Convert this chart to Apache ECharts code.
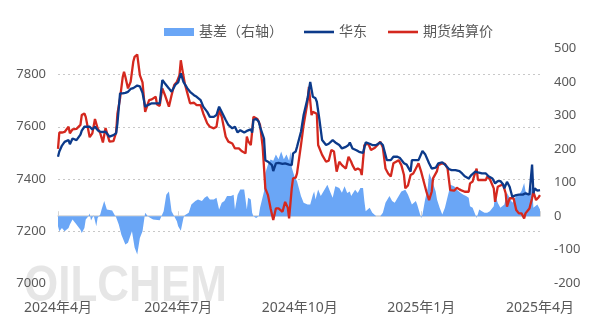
<!DOCTYPE html>
<html><head><meta charset="utf-8">
<script src="https://cdn.jsdelivr.net/npm/echarts@6/dist/echarts.min.js"></script>
<style>html,body{margin:0;padding:0;background:#fff}#c{width:600px;height:327px}</style>
</head><body><div id="c"></div>
<script>
const xTickLabels = ['2024年4月','2024年7月','2024年10月','2025年1月','2025年4月'];
const leftTicks = [7000, 7200, 7400, 7600, 7800];
const rightTicks = [-200, -100, 0, 100, 200, 300, 400, 500];

const eastDates = ['2024-04-01','2024-04-02','2024-04-04','2024-04-06','2024-04-09','2024-04-10','2024-04-12','2024-04-15','2024-04-18','2024-04-19','2024-04-21','2024-04-22','2024-04-25','2024-04-27','2024-04-29','2024-05-01','2024-05-03','2024-05-05','2024-05-07','2024-05-10','2024-05-13','2024-05-15','2024-05-16','2024-05-18','2024-05-20','2024-05-22','2024-05-24','2024-05-26','2024-05-28','2024-05-29','2024-05-31','2024-06-02','2024-06-04','2024-06-06','2024-06-08','2024-06-11','2024-06-14','2024-06-17','2024-06-19','2024-06-21','2024-06-24','2024-06-26','2024-06-29','2024-07-01','2024-07-03','2024-07-05','2024-07-08','2024-07-10','2024-07-13','2024-07-15','2024-07-18','2024-07-20','2024-07-23','2024-07-25','2024-07-28','2024-07-30','2024-08-01','2024-08-03','2024-08-06','2024-08-08','2024-08-11','2024-08-13','2024-08-15','2024-08-17','2024-08-20','2024-08-22','2024-08-25','2024-08-26','2024-08-27','2024-08-29','2024-08-31','2024-09-01','2024-09-04','2024-09-05','2024-09-07','2024-09-10','2024-09-11','2024-09-13','2024-09-15','2024-09-18','2024-09-20','2024-09-23','2024-09-25','2024-09-26','2024-09-28','2024-09-29','2024-10-02','2024-10-04','2024-10-07','2024-10-09','2024-10-11','2024-10-13','2024-10-14','2024-10-16','2024-10-18','2024-10-21','2024-10-23','2024-10-26','2024-10-28','2024-10-31','2024-11-02','2024-11-05','2024-11-07','2024-11-08','2024-11-10','2024-11-13','2024-11-15','2024-11-18','2024-11-20','2024-11-23','2024-11-25','2024-11-28','2024-12-01','2024-12-03','2024-12-06','2024-12-09','2024-12-11','2024-12-14','2024-12-16','2024-12-19','2024-12-21','2024-12-24','2024-12-25','2024-12-28','2024-12-30','2025-01-02','2025-01-04','2025-01-07','2025-01-09','2025-01-12','2025-01-14','2025-01-17','2025-01-19','2025-01-22','2025-01-24','2025-01-27','2025-01-30','2025-02-01','2025-02-03','2025-02-06','2025-02-08','2025-02-11','2025-02-13','2025-02-16','2025-02-19','2025-02-21','2025-02-24','2025-02-26','2025-02-28','2025-03-02','2025-03-04','2025-03-05','2025-03-07','2025-03-09','2025-03-11','2025-03-14','2025-03-16','2025-03-19','2025-03-21','2025-03-24','2025-03-25','2025-03-26','2025-03-27','2025-03-28','2025-03-30','2025-03-31','2025-04-01'];
const eastValues = [7485,7505,7528,7542,7549,7533,7555,7549,7570,7585,7600,7600,7600,7590,7600,7587,7581,7580,7581,7562,7568,7575,7613,7728,7728,7730,7734,7745,7748,7753,7758,7755,7730,7677,7683,7690,7690,7690,7779,7766,7747,7734,7762,7770,7805,7772,7747,7734,7721,7715,7702,7677,7657,7638,7638,7645,7677,7657,7626,7607,7594,7600,7578,7587,7578,7584,7590,7578,7626,7630,7620,7600,7555,7472,7466,7453,7430,7460,7462,7458,7460,7455,7453,7498,7505,7523,7581,7645,7709,7772,7715,7709,7696,7626,7549,7530,7535,7549,7540,7530,7517,7523,7530,7540,7517,7510,7504,7500,7540,7535,7530,7530,7540,7530,7472,7472,7485,7485,7480,7460,7455,7428,7472,7472,7472,7507,7495,7460,7440,7443,7460,7464,7455,7438,7434,7434,7430,7421,7410,7402,7415,7428,7425,7421,7421,7410,7402,7383,7392,7392,7380,7364,7389,7370,7332,7338,7340,7340,7345,7340,7345,7455,7345,7364,7355,7360,7357];

const futDates = ['2024-04-01','2024-04-02','2024-04-04','2024-04-06','2024-04-09','2024-04-10','2024-04-12','2024-04-15','2024-04-18','2024-04-19','2024-04-21','2024-04-22','2024-04-25','2024-04-27','2024-04-29','2024-05-01','2024-05-03','2024-05-05','2024-05-07','2024-05-10','2024-05-13','2024-05-15','2024-05-16','2024-05-18','2024-05-20','2024-05-21','2024-05-22','2024-05-24','2024-05-26','2024-05-28','2024-05-29','2024-05-31','2024-06-02','2024-06-04','2024-06-06','2024-06-07','2024-06-09','2024-06-11','2024-06-14','2024-06-15','2024-06-17','2024-06-19','2024-06-21','2024-06-24','2024-06-26','2024-06-28','2024-06-30','2024-07-02','2024-07-03','2024-07-04','2024-07-06','2024-07-08','2024-07-10','2024-07-13','2024-07-15','2024-07-18','2024-07-20','2024-07-23','2024-07-25','2024-07-28','2024-07-30','2024-08-01','2024-08-03','2024-08-06','2024-08-08','2024-08-11','2024-08-13','2024-08-16','2024-08-18','2024-08-21','2024-08-22','2024-08-23','2024-08-25','2024-08-26','2024-08-27','2024-08-30','2024-09-01','2024-09-03','2024-09-05','2024-09-07','2024-09-09','2024-09-11','2024-09-13','2024-09-15','2024-09-18','2024-09-20','2024-09-22','2024-09-23','2024-09-25','2024-09-26','2024-09-28','2024-09-29','2024-10-02','2024-10-04','2024-10-07','2024-10-08','2024-10-10','2024-10-11','2024-10-14','2024-10-15','2024-10-18','2024-10-21','2024-10-23','2024-10-25','2024-10-27','2024-10-29','2024-10-31','2024-11-02','2024-11-03','2024-11-05','2024-11-07','2024-11-09','2024-11-10','2024-11-12','2024-11-14','2024-11-16','2024-11-17','2024-11-19','2024-11-22','2024-11-24','2024-11-27','2024-11-29','2024-12-01','2024-12-03','2024-12-05','2024-12-07','2024-12-09','2024-12-11','2024-12-13','2024-12-15','2024-12-17','2024-12-19','2024-12-20','2024-12-22','2024-12-24','2024-12-26','2024-12-28','2024-12-30','2025-01-01','2025-01-03','2025-01-05','2025-01-07','2025-01-09','2025-01-10','2025-01-13','2025-01-14','2025-01-17','2025-01-19','2025-01-21','2025-01-23','2025-01-26','2025-01-28','2025-01-30','2025-02-01','2025-02-03','2025-02-06','2025-02-07','2025-02-09','2025-02-10','2025-02-12','2025-02-13','2025-02-16','2025-02-19','2025-02-20','2025-02-22','2025-02-25','2025-02-26','2025-02-28','2025-03-02','2025-03-04','2025-03-06','2025-03-07','2025-03-09','2025-03-10','2025-03-12','2025-03-14','2025-03-16','2025-03-18','2025-03-20','2025-03-21','2025-03-24','2025-03-26','2025-03-27','2025-03-29','2025-03-31','2025-04-01'];
const futValues = [7515,7578,7578,7580,7600,7575,7590,7592,7607,7645,7651,7638,7560,7575,7630,7594,7575,7540,7595,7543,7545,7578,7650,7709,7790,7811,7792,7747,7772,7849,7868,7877,7798,7770,7657,7660,7702,7705,7715,7685,7680,7747,7721,7677,7721,7760,7772,7798,7855,7824,7766,7728,7690,7692,7683,7683,7651,7613,7600,7594,7600,7664,7638,7562,7543,7536,7517,7517,7507,7498,7562,7545,7530,7581,7638,7630,7607,7523,7364,7338,7287,7243,7287,7287,7274,7312,7290,7249,7364,7402,7405,7421,7530,7607,7696,7753,7645,7657,7650,7530,7492,7466,7470,7511,7505,7428,7466,7453,7460,7440,7485,7466,7453,7434,7440,7434,7415,7530,7535,7511,7520,7530,7543,7520,7440,7421,7409,7460,7466,7472,7453,7415,7364,7375,7415,7421,7440,7460,7428,7389,7351,7319,7351,7402,7430,7453,7460,7458,7440,7357,7355,7366,7360,7355,7351,7351,7383,7390,7409,7440,7396,7396,7396,7409,7400,7364,7312,7370,7375,7379,7345,7294,7326,7330,7326,7281,7268,7268,7249,7268,7287,7326,7351,7319,7330,7338];

const basisDates = ['2024-04-01','2024-04-02','2024-04-04','2024-04-06','2024-04-09','2024-04-10','2024-04-12','2024-04-15','2024-04-18','2024-04-19','2024-04-21','2024-04-22','2024-04-24','2024-04-25','2024-04-26','2024-04-28','2024-04-30','2024-05-01','2024-05-03','2024-05-04','2024-05-06','2024-05-08','2024-05-09','2024-05-12','2024-05-14','2024-05-15','2024-05-17','2024-05-19','2024-05-22','2024-05-24','2024-05-27','2024-05-29','2024-05-31','2024-06-02','2024-06-04','2024-06-06','2024-06-08','2024-06-10','2024-06-12','2024-06-17','2024-06-20','2024-06-22','2024-06-24','2024-06-25','2024-06-26','2024-06-28','2024-06-30','2024-07-01','2024-07-03','2024-07-05','2024-07-06','2024-07-09','2024-07-11','2024-07-14','2024-07-16','2024-07-19','2024-07-21','2024-07-23','2024-07-25','2024-07-28','2024-07-30','2024-08-01','2024-08-03','2024-08-05','2024-08-07','2024-08-10','2024-08-12','2024-08-13','2024-08-15','2024-08-17','2024-08-20','2024-08-22','2024-08-23','2024-08-25','2024-08-26','2024-08-27','2024-08-29','2024-08-31','2024-09-01','2024-09-04','2024-09-05','2024-09-07','2024-09-09','2024-09-11','2024-09-13','2024-09-15','2024-09-17','2024-09-19','2024-09-21','2024-09-23','2024-09-24','2024-09-25','2024-09-27','2024-09-29','2024-10-02','2024-10-04','2024-10-07','2024-10-09','2024-10-11','2024-10-12','2024-10-13','2024-10-15','2024-10-17','2024-10-19','2024-10-22','2024-10-24','2024-10-26','2024-10-28','2024-10-31','2024-11-02','2024-11-04','2024-11-06','2024-11-08','2024-11-09','2024-11-12','2024-11-14','2024-11-16','2024-11-18','2024-11-19','2024-11-20','2024-11-23','2024-11-25','2024-11-28','2024-12-01','2024-12-03','2024-12-05','2024-12-08','2024-12-10','2024-12-12','2024-12-15','2024-12-17','2024-12-20','2024-12-22','2024-12-25','2024-12-28','2024-12-29','2025-01-01','2025-01-02','2025-01-04','2025-01-06','2025-01-07','2025-01-09','2025-01-12','2025-01-13','2025-01-15','2025-01-17','2025-01-19','2025-01-22','2025-01-23','2025-01-26','2025-01-28','2025-01-31','2025-02-02','2025-02-04','2025-02-06','2025-02-07','2025-02-09','2025-02-10','2025-02-12','2025-02-14','2025-02-16','2025-02-18','2025-02-20','2025-02-22','2025-02-25','2025-02-26','2025-02-28','2025-03-02','2025-03-05','2025-03-07','2025-03-09','2025-03-11','2025-03-14','2025-03-16','2025-03-18','2025-03-20','2025-03-21','2025-03-24','2025-03-26','2025-03-27','2025-03-30','2025-04-01'];
const basisValues = [-30,-45,-35,-45,-35,-25,-10,-25,-40,-50,-35,-10,0,8,-13,3,-30,-5,5,20,45,20,15,17,3,-3,-25,-55,-84,-79,-45,-93,-114,-65,-45,10,0,-5,-10,-12,15,64,74,45,15,0,-15,-30,-43,-5,3,10,35,45,50,45,55,60,50,50,55,20,40,45,60,60,64,20,64,80,80,20,55,50,10,0,-5,0,25,74,129,154,169,165,184,170,193,170,184,165,193,145,119,104,60,40,35,35,64,74,50,80,60,74,94,74,55,89,84,70,89,69,74,60,79,69,84,84,45,15,25,10,0,0,10,40,60,45,40,60,74,79,65,35,45,35,-5,5,50,84,129,110,74,50,25,5,25,74,94,89,79,69,64,60,55,30,25,15,-5,20,15,10,10,15,30,64,40,25,35,69,55,40,60,64,75,99,75,60,94,25,35,20];

const pair = (d, v) => d.map((x, i) => [x, v[i]]);
const txt = '#595959';
const ff = "'Noto Sans', 'Noto Sans CJK SC', sans-serif";
const lineIcon = 'path://M0,0H30V2.6H0Z';

const chart = echarts.init(document.getElementById('c'), null, {renderer: 'canvas'});
chart.setOption({
  animation: false,
  backgroundColor: '#fff',
  textStyle: {fontFamily: ff},
  graphic: [{
    type: 'text', x: 24, y: 262, scaleX: 0.88, z: -10, zlevel: 0, silent: true,
    style: {
      text: 'OILCHEM',
      fontSize: 50, fontWeight: 'bold', fontFamily: 'Liberation Sans',
      verticalAlign: 'top',
      fill: '#dedede', opacity: 0.75
    }
  }],
  legend: {
    left: 159, top: 20, itemGap: 21, itemWidth: 30, itemHeight: 8,
    textStyle: {color: txt, fontSize: 14, fontFamily: ff},
    data: [
      {name: '基差（右轴）', icon: 'rect'},
      {name: '华东', icon: lineIcon},
      {name: '期货结算价', icon: lineIcon}
    ]
  },
  grid: {left: 58, right: 60, top: 48.5, bottom: 43.7, containLabel: false},
  xAxis: {
    type: 'time', min: '2024-04-01', max: '2025-04-01', splitNumber: 4,
    axisLine: {lineStyle: {color: '#d4d4d4', width: 1.5}},
    axisTick: {show: true, inside: true, length: 5, lineStyle: {color: '#d4d4d4'}},
    splitLine: {show: false},
    axisLabel: {
      color: txt, fontSize: 14, margin: 18, fontFamily: ff, hideOverlap: false,
      formatter: function (val) {
        const d = new Date(val);
        const lbl = d.getFullYear() + '年' + (d.getMonth() + 1) + '月';
        return xTickLabels.indexOf(lbl) >= 0 && d.getDate() === 1 ? lbl : '';
      }
    }
  },
  yAxis: [{
    type: 'value', min: leftTicks[0], max: 7900, interval: 200, position: 'left',
    axisLine: {show: false}, axisTick: {show: false},
    axisLabel: {color: txt, fontSize: 13, margin: 12, showMaxLabel: false, fontFamily: ff,
      formatter: v => String(v)},
    splitLine: {show: true, showMinLine: false, showMaxLine: false, lineStyle: {color: '#c8c8c8', type: [2, 3], width: 1}}
  }, {
    type: 'value', min: rightTicks[0], max: rightTicks[rightTicks.length - 1], interval: 100, position: 'right',
    axisLine: {show: false}, axisTick: {show: false},
    axisLabel: {color: txt, fontSize: 13, margin: 14, fontFamily: ff, formatter: v => String(v)},
    splitLine: {show: false}
  }],
  series: [{
    name: '基差（右轴）', type: 'line', yAxisIndex: 1, symbol: 'none',
    data: pair(basisDates, basisValues),
    lineStyle: {width: 0, color: '#6aa6f6'},
    itemStyle: {color: '#6aa6f6'},
    areaStyle: {color: '#6aa6f6', opacity: 1, origin: 0},
    z: 1
  }, {
    name: '华东', type: 'line', yAxisIndex: 0, symbol: 'none',
    data: pair(eastDates, eastValues),
    lineStyle: {width: 2.3, color: '#0c3a8a'}, itemStyle: {color: '#0c3a8a'}, z: 3
  }, {
    name: '期货结算价', type: 'line', yAxisIndex: 0, symbol: 'none',
    data: pair(futDates, futValues),
    lineStyle: {width: 2.3, color: '#d4281e'}, itemStyle: {color: '#d4281e'}, z: 2
  }]
});
</script></body></html>
